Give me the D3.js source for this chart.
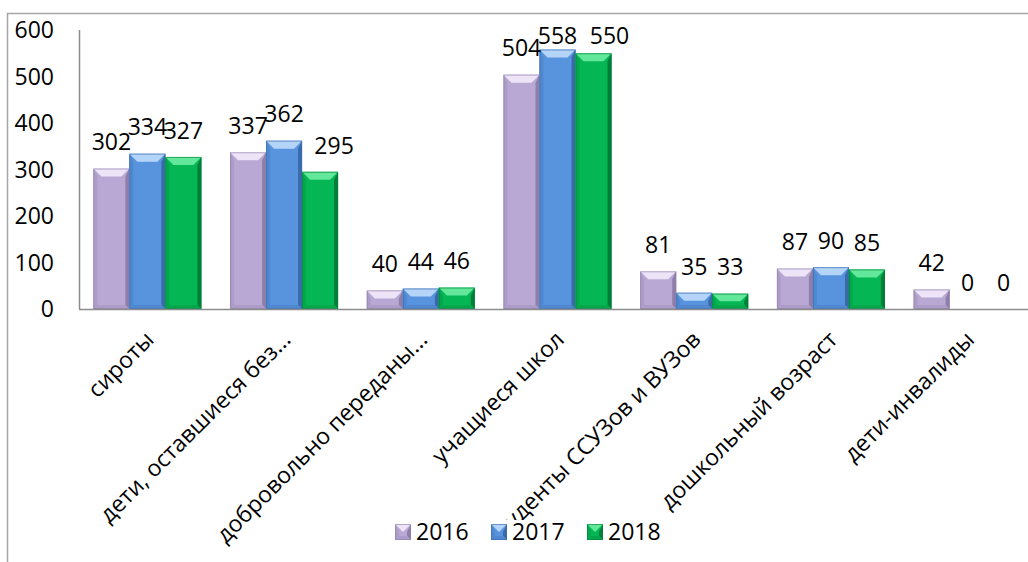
<!DOCTYPE html>
<html>
<head>
<meta charset="utf-8">
<script src="https://cdn.jsdelivr.net/npm/d3@7"></script>
<style>
  body { margin:0; background:#fff; }
  svg text { font-family:"Open Sans", sans-serif; fill:#000; }
</style>
</head>
<body>
<svg id="chart" width="1028" height="562"></svg>
<script>
// data
var categories = ["сироты", "дети, оставшиеся без...", "добровольно переданы...",
                  "учащиеся школ", "студенты ССУЗов и ВУЗов", "дошкольный возраст", "дети-инвалиды"];
var years = ["2016", "2017", "2018"];
var values2016 = [302, 337, 40, 504, 81, 87, 42];
var values2017 = [334, 362, 44, 558, 35, 90, 0];
var values2018 = [327, 295, 46, 550, 33, 85, 0];
var yTicks = [0, 100, 200, 300, 400, 500, 600];

var series = [values2016, values2017, values2018];

// colours: base, light (top bevel), side / dark edges
var palette = [
  {base:"#b9a8d3", light:"#ede4f8", side:"#ad9cc8", dark:"#8e7eaa"},
  {base:"#5894de", light:"#b4d4f8", side:"#4f88d0", dark:"#3b6aa9"},
  {base:"#04b654", light:"#63e79a", side:"#03a84d", dark:"#017e39"}
];

var svg = d3.select("#chart");
var W = 1028, H = 562;
var m = {left:79, top:30, right:1036, bottom:309};
var fs = "23px";

// outer frame (only the parts inside the picture)
svg.append("path")
   .attr("d", "M7.5," + H + "V13.5H" + W)
   .attr("fill","none")
   .attr("stroke","#a6a6a6")
   .attr("stroke-width",1.5);

var x0 = d3.scaleBand().domain(categories)
   .range([m.left, m.right]).paddingInner(0.21).paddingOuter(0.105);
var x1 = d3.scaleBand().domain(years).range([0, x0.bandwidth()]);
var y = d3.scaleLinear().domain([0, 600]).range([m.bottom, m.top]);

// y axis labels, no ticks
svg.append("g").selectAll("text")
   .data(yTicks).join("text")
   .attr("x", 54)
   .attr("y", function(d){ return y(d); })
   .attr("dy","0.36em")
   .attr("text-anchor","end")
   .style("font-size",fs)
   .text(function(d){ return d; });

svg.append("line")
   .attr("x1", m.left + 0.5).attr("x2", m.left + 0.5)
   .attr("y1", m.top).attr("y2", m.bottom)
   .attr("stroke","#8c8c8c").attr("stroke-width",1.5);

// bevelled bar: light top, thin sides, darker bottom
function bevelBar(g, x, yTop, w, h, c) {
  if (h <= 0) return;
  var bt = Math.min(8, h/2), bs = Math.min(4, w/2);
  var yb = yTop + h;
  g.append("rect").attr("x",x).attr("y",yTop).attr("width",w).attr("height",h).attr("fill",c.base);
  g.append("path").attr("d", d3.line()([[x,yTop],[x+bs,yTop+bt],[x+bs,yb-bs],[x,yb]])).attr("fill",c.side);
  g.append("path").attr("d", d3.line()([[x+w,yTop],[x+w-bs,yTop+bt],[x+w-bs,yb-bs],[x+w,yb]])).attr("fill",c.dark);
  g.append("path").attr("d", d3.line()([[x,yb],[x+bs,yb-bs],[x+w-bs,yb-bs],[x+w,yb]])).attr("fill",c.side);
  g.append("path").attr("d", d3.line()([[x,yTop],[x+w,yTop],[x+w-bt,yTop+bt],[x+bt,yTop+bt]])).attr("fill",c.light);
  g.append("rect").attr("x",x+0.5).attr("y",yTop+0.5).attr("width",w-1).attr("height",Math.max(0,h-1))
   .attr("fill","none").attr("stroke",c.dark).attr("stroke-width",1).attr("stroke-opacity",0.6);
}

var bars = svg.append("g");
series.forEach(function(vals, si) {
  vals.forEach(function(v, ci) {
    var bx = x0(categories[ci]) + x1(years[si]);
    bevelBar(bars, bx, y(v), x1.bandwidth(), y(0) - y(v), palette[si]);
  });
});

// x axis line
svg.append("line")
   .attr("x1", m.left).attr("x2", W)
   .attr("y1", m.bottom + 0.5).attr("y2", m.bottom + 0.5)
   .attr("stroke","#8c8c8c").attr("stroke-width",1.5);

// value labels (a few are nudged sideways like in the original)
var nudge = {"2-1": 14, "2-3": 16};
var labels = svg.append("g");
series.forEach(function(vals, si) {
  labels.selectAll(null).data(vals).join("text")
    .attr("x", function(d, ci){ return x0(categories[ci]) + x1(years[si]) + x1.bandwidth()/2 + (nudge[si + "-" + ci] || 0); })
    .attr("y", function(d){ return Math.max(y(d) - 26.5, 36); })
    .attr("dy","0.36em")
    .attr("text-anchor","middle")
    .style("font-size",fs)
    .text(function(d){ return d; });
});

// category labels, rotated
svg.append("g").selectAll("text")
   .data(categories).join("text")
   .attr("transform", function(d){
      var cx = x0(d) + x0.bandwidth()/2 + 8;
      return "translate(" + cx + ",341) rotate(-45)";
   })
   .attr("text-anchor","end")
   .style("font-size",fs)
   .text(function(d){ return d; });

// legend
var lg = svg.append("g").attr("transform","translate(395,524)");
var lx = [0, 96, 192];
lg.append("rect").attr("x",-6).attr("y",-4).attr("width",278).attr("height",22).attr("fill","#fff");
years.forEach(function(yr, i) {
  var it = lg.append("g").attr("transform","translate(" + lx[i] + ",0)");
  bevelBar(it, 0, 0, 16, 16, palette[i]);
  it.append("text").attr("x",21).attr("y",8).attr("dy","0.36em")
    .style("font-size",fs).text(yr);
});
</script>
</body>
</html>
